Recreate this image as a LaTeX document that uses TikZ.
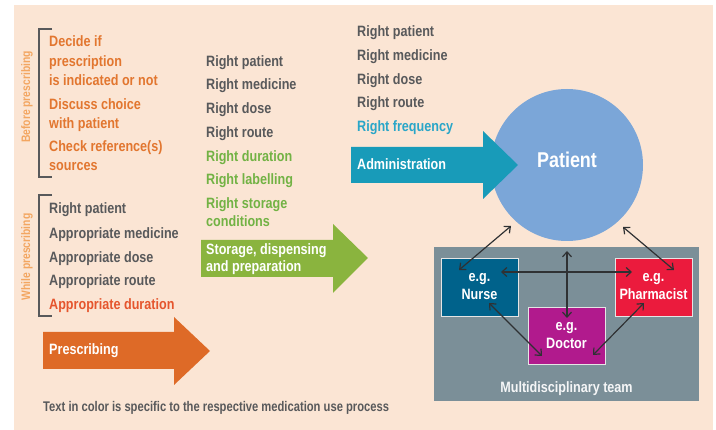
\documentclass[tikz,border=0pt]{standalone}
\usepackage{fontspec}
\setmainfont[FakeStretch=0.84]{Liberation Sans}
\newfontfamily\narrowfont[FakeStretch=0.8]{Liberation Sans}
\usetikzlibrary{arrows.meta}
\definecolor{bg}{HTML}{FBE5D4}
\definecolor{gtext}{HTML}{58595B}
\definecolor{otext}{HTML}{E2762F}
\definecolor{odur}{HTML}{E5552D}
\definecolor{olabel}{HTML}{F3A661}
\definecolor{grtext}{HTML}{72B244}
\definecolor{ttext}{HTML}{2AA6C8}
\definecolor{parrow}{HTML}{DE6A27}
\definecolor{sarrow}{HTML}{8AB43E}
\definecolor{aarrow}{HTML}{189BB9}
\definecolor{pcircle}{HTML}{7BA6D8}
\definecolor{team}{HTML}{7B8F98}
\definecolor{nursec}{HTML}{00628B}
\definecolor{pharmc}{HTML}{EB1B3D}
\definecolor{doctorc}{HTML}{B11A8D}
\definecolor{lnk}{HTML}{2F3133}
\begin{document}
\begin{tikzpicture}[x=1pt,y=-1pt,
  txt/.style={anchor=base west, inner sep=0pt, font=\bfseries\fontsize{15}{17}\selectfont},
  gtx/.style={txt, text=gtext},
  otx/.style={txt, text=otext},
  grtx/.style={txt, text=grtext},
  wtx/.style={txt, text=white},
  sidelabel/.style={rotate=90, inner sep=0pt, text=olabel, font=\bfseries\fontsize{12.3}{14}\selectfont},
  brk/.style={draw=gtext, line width=1.4pt},
  rolebox/.style={draw=white!80!gray, line width=0.8pt, minimum width=77pt, minimum height=58pt, inner sep=0pt, text=white, align=center, font=\bfseries\fontsize{15}{18}\selectfont},
  link/.style={draw=lnk, line width=1.2pt, {Straight Barb[length=5pt,width=9pt]}-{Straight Barb[length=5pt,width=9pt]}}
]
\useasboundingbox (0,0) rectangle (716,430);
\fill[bg] (14,5) rectangle (713,430);

% Before prescribing
\draw[brk] (52,29) -- (39,29) -- (39,177) -- (52,177);
\node[sidelabel] (lbefore) at (27,97) {Before prescribing};
\node[otx] (b1) at (49,47) {Decide if};
\node[otx] (b2) at (49,67) {prescription};
\node[otx] (b3) at (49,86) {is indicated or not};
\node[otx] (b4) at (49,110) {Discuss choice};
\node[otx] (b5) at (49,129) {with patient};
\node[otx] (b6) at (49,152) {Check reference(s)};
\node[otx] (b7) at (49,171) {sources};

% While prescribing
\draw[brk] (52,195) -- (39,195) -- (39,316) -- (52,316);
\node[sidelabel] (lwhile) at (27,257) {While prescribing};
\node[gtx] (w1) at (49,214) {Right patient};
\node[gtx] (w2) at (49,239) {Appropriate medicine};
\node[gtx] (w3) at (49,263) {Appropriate dose};
\node[gtx] (w4) at (49,286) {Appropriate route};
\node[txt, text=odur] (w5) at (49,310) {Appropriate duration};

% Column 2
\node[gtx] (s1) at (206,67) {Right patient};
\node[gtx] (s2) at (206,90) {Right medicine};
\node[gtx] (s3) at (206,114) {Right dose};
\node[gtx] (s4) at (206,138) {Right route};
\node[grtx] (s5) at (206,162) {Right duration};
\node[grtx] (s6) at (206,185) {Right labelling};
\node[grtx] (s7) at (206,209) {Right storage};
\node[grtx] (s8) at (206,227) {conditions};

% Column 3
\node[gtx] (a1) at (357,37) {Right patient};
\node[gtx] (a2) at (357,61) {Right medicine};
\node[gtx] (a3) at (357,85) {Right dose};
\node[gtx] (a4) at (357,108) {Right route};
\node[txt, text=ttext] (a5) at (357,132) {Right frequency};

% Patient
\node[circle, fill=pcircle, minimum size=152pt, inner sep=0pt] (patient) at (567,165) {};
\node[anchor=base, inner sep=0pt, text=white, font=\bfseries\fontsize{21.4}{25}\selectfont] (ptxt) at (567,168) {Patient};

% Process arrows
\fill[parrow] (43,332) -- (174,332) -- (174,317) -- (210,351) -- (174,385) -- (174,369) -- (43,369) -- cycle;
\node[wtx] (prescribing) at (49,355) {Prescribing};
\fill[sarrow] (201,240) -- (333,240) -- (333,224) -- (368,258) -- (333,293) -- (333,277) -- (201,277) -- cycle;
\node[wtx] (storage1) at (206,255) {Storage, dispensing};
\node[wtx] (storage2) at (206,272) {and preparation};
\fill[aarrow] (351,147) -- (483,147) -- (483,131) -- (518,165) -- (483,199) -- (483,183) -- (351,183) -- cycle;
\node[wtx] (administration) at (357,170) {Administration};

% Team
\fill[team] (434,247) rectangle (699,401);
\node[rolebox, fill=nursec] (nurse) at (479.5,287) {e.g.\\Nurse};
\node[rolebox, fill=pharmc] (pharm) at (653.5,287) {e.g.\\Pharmacist};
\node[rolebox, fill=doctorc, minimum height=57pt] (doctor) at (566.5,335.5) {e.g.\\Doctor};
\node[anchor=base, inner sep=0pt, text=white!92!team, font=\bfseries\fontsize{15}{17}\selectfont] (teamlbl) at (566.5,393) {Multidisciplinary team};

\coordinate (pn) at (511,226);
\coordinate (np) at (459,270);
\coordinate (pp) at (623,227);
\coordinate (ph) at (674,270);
\coordinate (vt) at (567,251);
\coordinate (vb) at (567,318);
\coordinate (hl) at (501,272);
\coordinate (hr) at (632,272);
\coordinate (nd1) at (489,303);
\coordinate (nd2) at (542,356);
\coordinate (pd1) at (644,303);
\coordinate (pd2) at (593,355);
\draw[link] (pn) -- (np);
\draw[link] (pp) -- (ph);
\draw[link] (vt) -- (vb);
\draw[link] (hl) -- (hr);
\draw[link] (nd1) -- (nd2);
\draw[link] (pd1) -- (pd2);

% Footer
\node[anchor=base west, inner sep=0pt, text=gtext, font=\narrowfont\bfseries\fontsize{14}{16}\selectfont] (footer) at (43,412) {Text in color is specific to the respective medication use process};
\end{tikzpicture}
\end{document}
